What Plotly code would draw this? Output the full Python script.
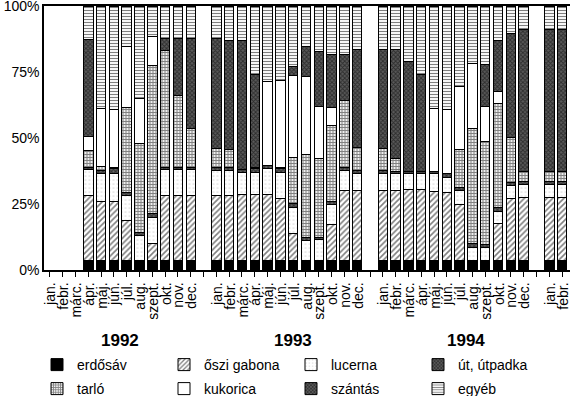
import plotly.graph_objects as go

# ---- data (percent of area), months Jan 1992 - Feb 1995 ----
years = ["1992", "1993", "1994", "1995"]
month_labels = ["jan.", "febr.", "márc.", "ápr.", "máj.", "jún.",
                "júl.", "aug.", "szept.", "okt.", "nov.", "dec."]
months_per_year = [12, 12, 12, 2]
year_titles = ["1992", "1993", "1994"]

categories = ["erdősáv", "őszi gabona", "lucerna", "út, útpadka",
              "tarló", "kukorica", "szántás", "egyéb"]

erdosav = [None, None, None, 3.5, 3.5, 3.5, 3.5, 3.5, 3.5, 3.5, 3.5, 3.5,
           3.5, 3.5, 3.5, 3.5, 3.5, 3.5, 3.5, 3.5, 3.5, 3.5, 3.5, 3.5,
           3.5, 3.5, 3.5, 3.5, 3.5, 3.5, 3.5, 3.5, 3.5, 3.5, 3.5, 3.5,
           3.5, 3.5]
oszi_gabona = [None, None, None, 24.7, 22.6, 22.6, 15.2, 0, 6.4, 24.7, 24.7, 24.7,
               24.7, 24.7, 25.0, 25.0, 25.0, 23.5, 10.2, 0, 0, 13.7, 26.6, 26.6,
               26.6, 26.6, 26.9, 26.9, 26.4, 26.0, 21.3, 0, 0, 14.0, 23.5, 23.8,
               23.8, 23.8]
lucerna = [None, None, None, 9.8, 10.6, 10.6, 9.5, 9.5, 10.1, 9.8, 9.8, 9.8,
           9.5, 9.5, 8.6, 8.6, 9.9, 10.1, 10.1, 7.6, 7.9, 7.6, 7.6, 6.4,
           6.4, 6.4, 6.1, 6.1, 6.6, 5.7, 5.3, 5.1, 4.9, 4.8, 5.0, 5.1,
           5.1, 5.1]
ut_utpadka = [None, None, None, 1.0, 1.1, 1.6, 1.3, 1.3, 1.3, 1.0, 1.0, 1.0,
              1.3, 1.3, 1.0, 1.2, 1.2, 1.3, 1.3, 1.3, 1.0, 1.3, 1.3, 1.2,
              1.2, 1.0, 1.0, 1.0, 1.0, 1.3, 1.3, 1.3, 1.2, 1.2, 1.3, 1.3,
              1.3, 1.3]
tarlo = [None, None, None, 6.3, 1.5, 0.7, 32.0, 33.8, 56.3, 44.3, 27.2, 14.5,
         7.0, 6.6, 0, 0.7, 0, 0.6, 17.7, 31.4, 29.8, 28.7, 25.1, 8.6,
         8.3, 4.7, 0, 0, 0, 0, 14.2, 43.6, 38.9, 39.5, 16.8, 3.8,
         3.8, 3.8]
kukorica = [None, None, None, 5.3, 21.8, 21.8, 23.1, 16.9, 10.8, 0, 0, 0,
            0, 0, 0, 0, 31.7, 32.9, 31.0, 29.4, 19.6, 6.7, 0, 0,
            0, 0, 0, 0, 23.6, 24.3, 24.0, 24.7, 13.5, 4.5, 0, 0,
            0, 0]
szantas = [None, None, None, 36.7, 0, 0, 0, 0, 0, 4.4, 21.5, 34.2,
           41.7, 41.2, 48.7, 35.2, 0, 0, 3.2, 11.4, 20.9, 20.3, 17.7, 37.2,
           37.5, 41.3, 41.4, 36.7, 0, 0, 0, 0, 16.0, 19.6, 39.3, 53.6,
           53.6, 53.6]
egyeb = [None, None, None, 12.7, 38.9, 39.2, 15.4, 35.0, 11.6, 12.3, 12.3, 12.3,
         12.3, 13.2, 13.2, 25.8, 28.7, 28.1, 23.0, 15.4, 17.3, 18.2, 18.2, 16.5,
         16.5, 16.5, 21.1, 25.8, 38.9, 39.2, 30.4, 21.8, 22.0, 12.9, 10.6, 8.9,
         8.9, 8.9]

series = [erdosav, oszi_gabona, lucerna, ut_utpadka, tarlo, kukorica, szantas, egyeb]

# ---- styles ----
FONT = "Liberation Sans, Arial, Helvetica, sans-serif"
styles = [
    dict(color="black"),
    dict(color="white", pattern=dict(shape="/", fgcolor="black", bgcolor="white",
                                     size=4, solidity=0.4)),
    dict(color="white", pattern=dict(shape=".", fgcolor="#b0b0b0", bgcolor="white",
                                     size=4, solidity=0.15)),
    dict(color="#333", pattern=dict(shape="x", fgcolor="black", bgcolor="#666",
                                    size=3, solidity=0.6)),
    dict(color="white", pattern=dict(shape="+", fgcolor="#111", bgcolor="#eeeeee",
                                     size=3, solidity=0.55)),
    dict(color="white"),
    dict(color="#333", pattern=dict(shape="x", fgcolor="black", bgcolor="#5a5a5a",
                                    size=3, solidity=0.5)),
    dict(color="white", pattern=dict(shape="-", fgcolor="black", bgcolor="white",
                                     size=3, solidity=0.38)),
]

# x positions: one empty slot between years
xpos, tick_text_by_pos = [], {}
for yi, n in enumerate(months_per_year):
    for m in range(n):
        p = yi * 13 + m
        xpos.append(p)
        tick_text_by_pos[p] = month_labels[m]
all_slots = list(range(0, 41))
tick_text = [tick_text_by_pos.get(s, "") for s in all_slots]

fig = go.Figure()
for i, (name, vals) in enumerate(zip(categories, series)):
    fig.add_trace(go.Bar(
        x=xpos, y=vals, name=name,
        marker=dict(**styles[i], line=dict(color="black", width=1)),
        legend="legend" if i < 4 else "legend2",
        hoverinfo="skip",
    ))

W, H = 570, 396
x0_px, y_top_px, y_bot_px = 43.5, 6, 270

fig.update_layout(
    width=W, height=H,
    margin=dict(l=0, r=0, t=0, b=0, autoexpand=False),
    paper_bgcolor="white", plot_bgcolor="white",
    barmode="stack", bargap=0.26,
    font=dict(family=FONT, color="black", size=14),
    xaxis=dict(domain=[x0_px / W, 1], range=[-0.5, 40.62], automargin=False,
               tickmode="array", tickvals=all_slots, ticktext=tick_text,
               tickangle=-90, ticks="outside", ticklen=5, tickcolor="black",
               tickfont=dict(size=14, family=FONT), ticklabelshift=1,
               ticklabeloverflow="allow",
               showline=True, linecolor="black", linewidth=1.8, mirror=True,
               showgrid=False, zeroline=False, fixedrange=True),
    yaxis=dict(domain=[(H - y_bot_px) / H, (H - y_top_px) / H], range=[0, 100],
               automargin=False, ticklabeloverflow="allow",
               tickmode="array", tickvals=[0, 25, 50, 75, 100],
               ticktext=["0%", "25%", "50%", "75%", "100%"],
               tickfont=dict(size=14, family=FONT), ticks="",
               showline=True, linecolor="black", linewidth=1.2,
               showgrid=False, zeroline=False, fixedrange=True),
    legend=dict(orientation="h", x=37 / W, xanchor="left", y=(H - 365) / H,
                yanchor="middle", traceorder="normal", entrywidth=82,
                font=dict(size=14, family=FONT), bgcolor="rgba(0,0,0,0)"),
    legend2=dict(orientation="h", x=37 / W, xanchor="left", y=(H - 389) / H,
                 yanchor="middle", traceorder="normal", entrywidth=82,
                 font=dict(size=14, family=FONT), bgcolor="rgba(0,0,0,0)"),
    showlegend=True,
)

year_centers = [5.5, 19.0, 32.5]
for t, xc in zip(year_titles, year_centers):
    fig.add_annotation(x=xc, xref="x", y=(H - 340) / H, yref="paper",
                       xanchor="center", yanchor="middle",
                       text="<b>" + t + "</b>", showarrow=False,
                       font=dict(size=17, family=FONT, color="black"))

fig.write_html("out.html",
               config={"displayModeBar": False, "staticPlot": True},
               post_script="document.body.style.margin='0';"
                           "document.body.style.overflow='hidden';")
